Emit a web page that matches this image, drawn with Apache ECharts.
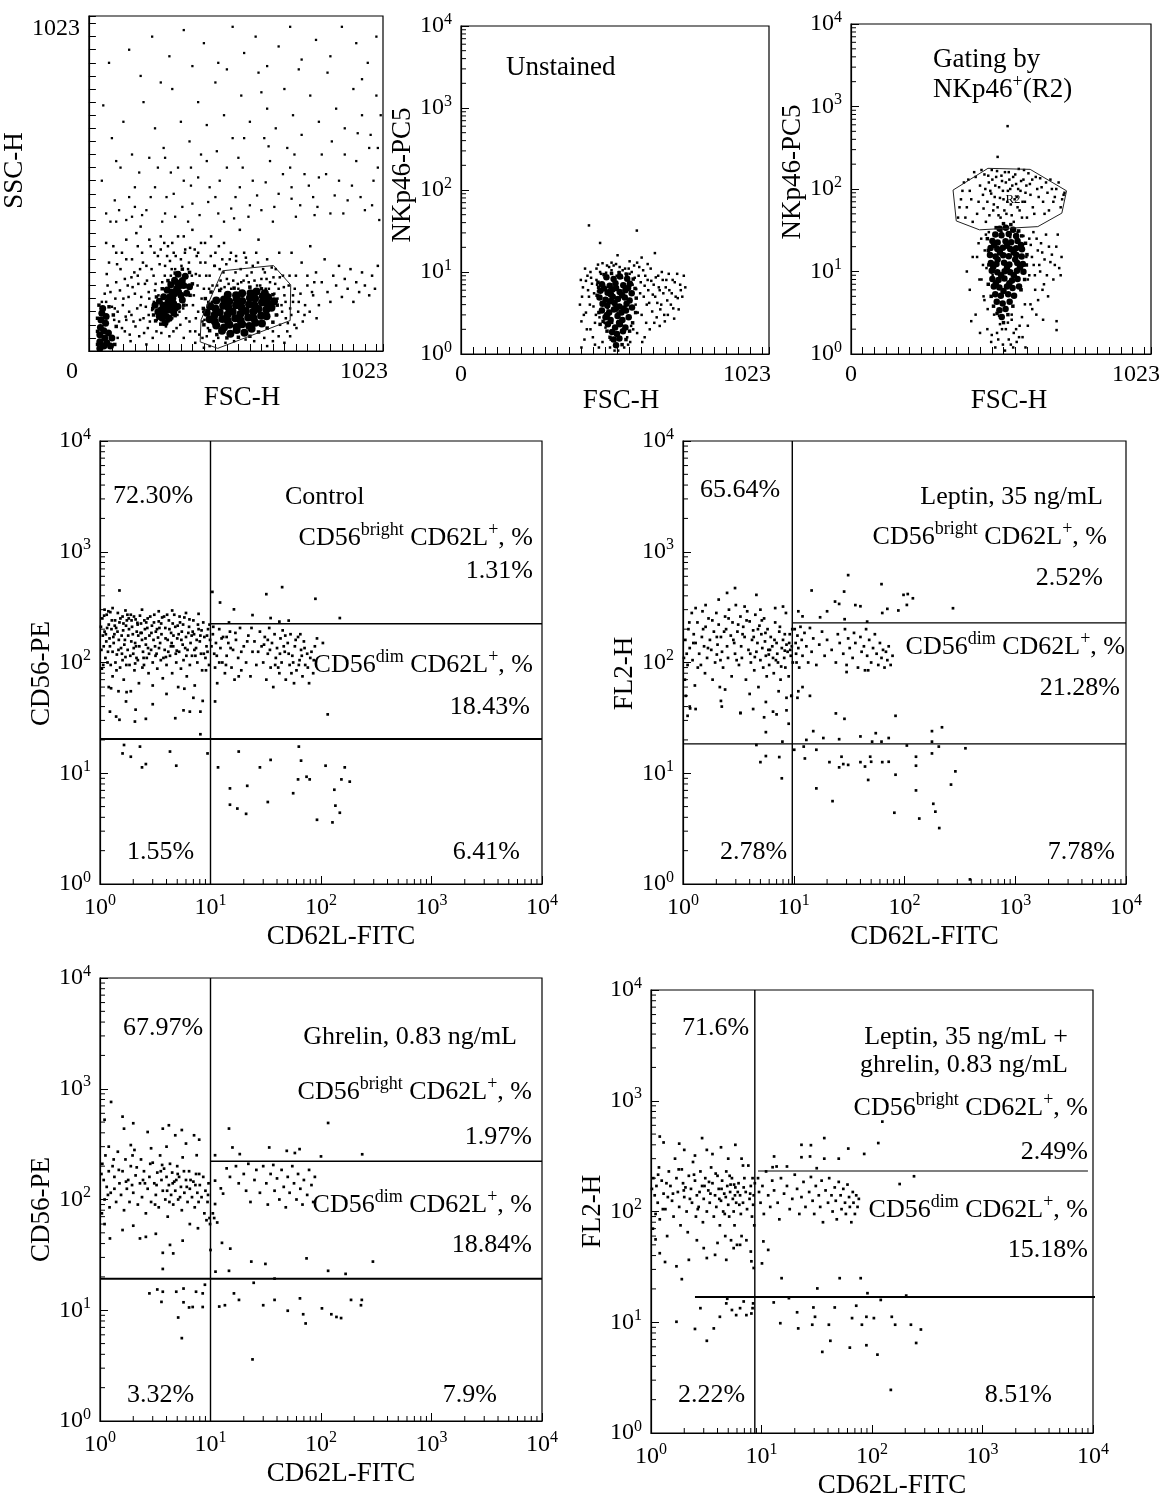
<!DOCTYPE html>
<html>
<head>
<meta charset="utf-8">
<script src="https://cdn.jsdelivr.net/npm/echarts@6/dist/echarts.min.js"></script>
<style>
html, body { margin: 0; background: #fff; }
#chart { width: 1163px; height: 1501px; }
</style>
</head>
<body>
<div id="chart"></div>
<script>
// tick labels
var linEnds = ['0', '1023'];
var decades = ['0', '1', '2', '3', '4'];
var minorTicks = [2, 3, 4, 5, 6, 7, 8, 9, 20, 30, 40, 50, 60, 70, 80, 90,
  200, 300, 400, 500, 600, 700, 800, 900, 2000, 3000, 4000, 5000, 6000, 7000, 8000, 9000];

// ---- panel A : FSC-H / SSC-H ----
var aMain = [[463,62],[492,53],[514,64],[541,56],[566,68],
  [443,78],[470,72],[489,80],[514,73],[533,82],[558,76],[579,86],[602,84],
  [420,97],[438,90],[464,98],[483,92],[509,100],[528,93],[554,102],[573,100],[599,108],[618,106],
  [410,117],[437,110],[455,118],[482,111],[500,120],[527,113],[546,122],[572,120],[590,128],[617,126],[635,132],
  [422,137],[440,130],[467,138],[486,132],[512,140],[530,134],[557,142],[576,140],[602,148],[620,146],[644,152],
  [443,154],[470,157],[488,151],[514,159],[533,153],[560,162],[578,160],[605,167],[623,164],
  [483,172],[512,170],[533,176],[562,176],[583,182],[612,176]];
var aSecond = [[245,105],[255,100],[250,125],[262,118],[268,135],[258,140],[275,150],[285,140],[280,165],[292,160],
  [298,175],[288,180],[305,190],[312,180],[318,200],[308,208],[325,215],[330,200],[335,228],[270,105],[295,145],
  [300,130],[320,170],[278,125],[240,120],[230,140],[245,152],[260,166],[272,186],[285,202],[298,216],[310,234],
  [265,86],[280,100],[295,116],[310,136],[325,156],[340,176],[350,196]];
var aEdge = [[38,8],[38,28],[38,50],[40,72],[42,95],[45,115],[52,15],[55,40],[52,62],[58,85],[62,25],[68,55],[75,15],
  [48,130],[80,40],[60,105]];
var aHalo = [[60,150],[75,180],[90,130],[95,210],[105,90],[110,250],[120,160],[125,60],[135,200],[140,120],[150,280],
  [155,90],[160,175],[170,230],[175,45],[180,140],[185,300],[190,100],[195,205],[200,260],[205,70],[210,160],[215,320],
  [220,125],[225,230],[230,185],[235,60],[240,290],[245,150],[250,350],[255,210],[260,80],[265,260],[270,180],[275,320],
  [280,45],[285,230],[290,100],[295,300],[300,250],[305,70],[310,350],[315,120],[320,280],[325,165],[330,40],[335,310],
  [340,140],[345,250],[350,90],[355,200],[360,370],[365,170],[370,60],[375,290],[380,120],[385,230],[390,330],[395,90],
  [400,190],[405,270],[410,45],[415,150],[420,230],[425,350],[430,200],[440,300],[450,40],[455,250],[460,190],[470,330],
  [475,25],[480,220],[490,280],[495,190],[505,30],[510,240],[520,190],[525,370],[530,210],[540,300],[545,35],[550,230],
  [560,195],[570,260],[575,30],[585,200],[590,340],[600,220],[610,40],[615,190],[620,280],[630,210],[640,60],[645,175],
  [650,250],[655,110],[660,190],[665,80],[670,140],[675,230],[680,170],[685,100],[690,60],[695,200],[700,130],[705,300],
  [710,170],[715,80],[720,230],[730,150],[740,270],[750,110],[760,200],[770,320],[780,170],[790,240],[800,140],[810,210],
  [820,280],[830,180],[840,150],[850,230],[860,200],[870,260],[880,165],[890,220],[900,190],[910,250],[920,150],[930,210],
  [940,180],[950,240],[960,200],[975,170],[985,230],[995,190],[1005,260],[70,270],[85,320],[130,340],[165,360],[100,40],
  [145,30],[200,20],[115,300],[180,380],[62,235],[98,265],[128,105],[148,225],[178,250],[208,110],[228,300],[262,330],
  [282,275],[352,315],[372,235],[402,95],[436,260],[468,240],[512,290],[548,270],[582,300],[612,240],[642,225],[662,300],
  [45,150],[55,175],[65,200],[80,135],[88,95],[92,160],[100,120],[108,185],[115,70],[118,140],[125,220],[130,95],
  [138,165],[142,50],[148,110],[152,195],[158,240],[162,75],[168,130],[172,205],[178,95],[182,165],[188,270],[192,55],
  [198,135],[202,215],[208,180],[212,90],[218,250],[222,40],[226,150],[232,205],[236,95],[242,170],[246,265],[252,55],
  [258,190],[264,230],[268,75],[272,290],[278,210],[284,95],[288,250],[294,60],[298,215],[302,290],[308,110],[312,240],
  [318,80],[322,260],[328,130],[334,300],[338,100],[342,180],[348,270],[352,60],[358,230],[362,140],[368,310],[372,100],
  [378,200],[384,50],[388,270],[392,160],[398,120],[404,330],[408,230],[414,70],[418,190],[424,290],[428,150],[434,30],
  [438,260],[446,200],[452,320],[458,215],[464,280],[472,195],[478,265],[486,205],[494,300],[502,215],[512,275],[518,205],
  [528,250],[538,215],[546,285],[556,210],[566,240],[576,215],[588,270],[596,200],[606,250],[618,220],[626,190],[636,255],
  [648,205],[656,160],[664,225],[672,120],[678,195],[684,150],[692,85],[698,230],[704,110],[710,150],[716,190],[722,70],
  [728,120],[736,175],[744,90],[752,140],[760,230],[768,120],[776,180],[784,210],[792,100],[370,25],[395,40],[420,15],
  [400,10],[640,30],[660,45],[680,25],[620,15],[700,45],[380,300],[330,350],[290,330],[250,310],[210,340],[170,320],
  [130,280],[95,300],[60,330]];
var aRing = [[400,80],[398,130],[405,160],[425,180],[455,185],[505,192],[560,195],[600,190],[640,172],[655,140],
  [652,110],[640,88],[620,70],[590,58],[560,45],[520,42],[480,40],[445,50],[420,62],[225,110],[232,92],[250,82],
  [275,92],[300,108],[330,140],[352,170],[360,205],[350,240],[325,250],[300,238],[275,215],[255,190],[235,165],
  [222,130],[30,20],[30,60],[30,100],[35,140],[90,20],[95,75],[85,110],[70,135]];
var aSparse = [[60,420],[90,460],[130,400],[160,500],[200,430],[240,560],[270,470],[300,410],[330,520],[360,450],[390,600],
  [420,500],[450,420],[480,560],[510,470],[540,650],[570,520],[600,430],[630,580],[660,480],[690,620],[720,410],[750,540],
  [780,470],[810,600],[840,420],[870,520],[900,460],[930,580],[960,430],[990,520],[1010,400],
  [80,650],[120,700],[150,600],[190,760],[230,680],[260,620],[290,800],[320,700],[350,640],[380,760],[410,690],[440,820],
  [470,720],[500,650],[530,780],[560,700],[590,850],[620,740],[650,680],[680,800],[710,720],[740,660],[770,780],[800,700],
  [830,850],[860,740],[890,680],[920,800],[950,720],[980,660],[1000,780],
  [70,880],[140,920],[180,840],[220,960],[280,900],[330,980],[360,870],[400,940],[450,880],[500,990],[540,910],[580,960],
  [620,870],[660,930],[700,990],[740,890],[790,950],[840,900],[880,990],[930,940],[970,880],[1000,960],
  [110,560],[210,590],[310,560],[410,580],[520,590],[610,650],[700,560],[800,530],[890,600],[975,620],[50,750],[250,820],
  [480,860],[730,860],[950,830],[1015,720],[600,790],[380,530],[160,440],[45,520],[140,470],[230,500],[285,545],[345,395],
  [440,470],[505,405],[560,445],[640,395],[705,465],[785,415],[150,410],[95,395],[255,395],[470,395],
  [75,395],[105,430],[185,415],[215,470],[265,420],[295,480],[325,440],[355,505],[385,415],[415,455],[455,520],[495,435],
  [525,500],[555,410],[585,475],[615,515],[645,440],[675,540],[705,500],[735,445],[765,505],[795,440],[825,540],[855,475],
  [885,420],[915,505],[945,470],[985,445],[1005,560],[95,580],[175,545],[265,590],[355,560],[445,610],[535,560],[625,625],
  [715,600],[845,640],[935,665],[1005,620]];
var aGate = [[465,245],[642,261],[702,202],[700,93],[448,8],[387,28],[390,95],[465,245]];

// ---- panel B : unstained ----
var bCore = [[483,8.6],[507,8.2],[528,8.8],[552,8.3],
  [468,7.1],[494,6.8],[513,7.3],[539,6.9],[561,7.2],
  [463,5.9],[487,5.6],[503,6.1],[527,5.7],[546,6.0],[567,5.5],
  [460,4.9],[480,4.6],[504,5.0],[521,4.7],[544,4.9],[560,4.5],
  [470,4.1],[486,3.9],[510,4.2],[526,3.8],[550,4.1],[568,3.7],
  [468,3.4],[492,3.2],[508,3.5],[533,3.2],[548,3.4],
  [480,2.8],[497,2.6],[520,2.9],[536,2.6],[557,2.8],
  [488,2.3],[512,2.1],[528,2.3],[546,2.1],
  [502,1.85],[518,1.75],[538,1.9],[507,1.5],[526,1.55],[515,1.28],
  [475,6.3],[498,5.3],[515,6.4],[535,5.2],[555,6.4],[495,4.4],[515,3.6],[540,3.6],[485,3.0],[525,2.4]];
var bRing = [[455,7.5],[458,3.2],[462,2.3],[475,9.3],[500,9.6],[525,9.8],[550,9.4],[572,8.2],[578,6.3],[582,4.8],
  [580,3.2],[570,2.4],[560,1.9],[548,1.5],[535,1.3],[495,1.6],[485,1.9],[472,2.5],[452,5.2],[457,6.5]];
var bSpread = [[395,4],[400,2.5],[405,6.5],[410,1.5],[415,3.2],[420,9],[425,5],[430,2],[435,7.2],[440,3.8],[445,1.3],
  [450,11],[455,5.8],[460,2.8],[465,9.5],[470,1.4],[475,7],[480,2.1],[485,12],[490,6],[495,1.2],[500,10.5],[505,4.5],
  [510,1.1],[515,12.5],[520,3.2],[525,10],[530,1.5],[535,8.5],[540,2],[545,11],[550,6],[555,1.3],[560,9.5],[565,2.2],
  [570,7],[575,12],[580,4],[585,1.8],[590,9],[595,5.5],[600,3],[605,10.5],[610,6.8],[615,2.4],[620,8],[625,4.2],[630,11],
  [635,3.3],[640,7],[645,5],[650,2.8],[655,9],[660,6],[665,4],[670,8],[675,3],[680,6.5],[685,4.5],[690,9.5],[700,5.5],
  [705,3.6],[710,7.5],[720,4.8],[730,6],[740,9],[500,13],[560,13.5],[450,8],[430,10],[620,12.5],[470,12.8],
  [425,37],[584,32],[462,22.6],[644,17],[520,16],[600,15],[415,7.8],[445,2.4],[585,13],[610,1.6],[660,2.2],
  [398,8],[402,5],[408,3],[412,11],[418,2],[422,6],[428,4],[432,8.5],[438,1.6],[442,5.5],[448,3],[452,7],[458,1.2],
  [462,10],[467,4.2],[472,6.2],[477,2.4],[482,9.8],[487,3.6],[492,11.5],[497,1.5],[502,2.4],[507,12],[512,1.3],[517,9],
  [522,1.1],[527,11.5],[532,2.5],[537,10.5],[542,1.2],[547,9.5],[552,1.6],[557,11],[562,1.4],[567,10],[572,2],[577,8.5],
  [582,6.2],[587,3.2],[592,11.5],[597,7.5],[602,1.4],[607,5],[612,9],[617,4],[622,6],[627,2],[632,7.8],[637,5.3],
  [642,2.4],[647,8.6],[652,4.2],[657,6.5],[662,3.5],[667,10],[672,5.5],[677,2.5],[682,8],[687,3],[692,6],[697,4],
  [703,8],[708,2.7],[713,5],[718,9.5],[723,3.5],[728,7],[735,5],[745,6.5],[400,1.2],[455,12.3]];

// ---- panel C : gating by NKp46+ (R2) ----
var cCore = [[507,33],[528,34],[553,32],
  [492,28],[513,27.5],[538,28.5],[563,27],
  [482,23.5],[500,22.5],[527,23.3],[546,22.6],[568,23.4],
  [476,19.3],[499,18.7],[518,19.4],[543,18.8],[563,19.2],[583,18.6],
  [474,15.8],[493,15.2],[519,15.7],[538,15.3],[564,15.8],[582,15.2],
  [477,12.7],[496,12.3],[522,12.8],[540,12.2],[567,12.7],[586,12.3],
  [480,10.2],[499,9.8],[524,10.1],[543,9.8],[566,10.2],[588,9.9],
  [482,8.1],[503,7.9],[523,8.2],[549,7.8],[568,8.1],
  [487,6.6],[506,6.4],[532,6.6],[551,6.3],[573,6.6],
  [492,5.3],[511,5.1],[536,5.3],[556,5.1],
  [497,4.3],[517,4.1],[541,4.3],[506,3.4],[527,3.5],[514,2.8],
  [488,21],[532,20.5],[555,17],[508,17],[485,11.3],[532,11.2],[576,11.2],[512,9],[555,9],[494,7.2],[540,7.2],
  [520,5.8],[560,14],[500,14],[580,21]];
var cRing = [[465,25],[470,12],[468,7],[478,5],[486,3.8],[498,3.1],[520,2.4],[535,3],[552,3.8],[580,6],[592,8],
  [598,12],[600,16],[595,22],[582,27],[572,31],[545,37],[520,38],[495,34],[468,18]];
var cSpread = [[370,60],[380,95],[390,45],[400,130],[410,75],[420,160],[430,50],[440,110],[450,85],[455,150],[460,40],
  [465,70],[470,120],[475,95],[480,170],[485,55],[490,80],[495,140],[500,60],[505,105],[510,45],[515,125],[520,75],
  [525,160],[530,50],[535,95],[540,130],[545,65],[550,110],[555,40],[560,150],[565,80],[570,100],[575,55],[580,125],
  [585,70],[590,170],[595,90],[600,45],[610,115],[620,60],[630,140],[640,80],[650,105],[660,50],[670,90],[680,130],
  [690,70],[700,100],[715,60],[725,85],
  [395,10],[405,6],[415,15],[425,3],[435,22],[445,8],[450,12],[455,4.5],[460,28],[465,2],[470,17],[478,1.4],[483,9],
  [488,3],[498,1.8],[503,14],[508,2.3],[513,30],[518,1.3],[528,2],[533,12],[538,1.5],[543,26],[548,3],[553,1.2],[558,19],
  [563,2],[568,30],[573,1.6],[578,6],[583,2.8],[588,27],[593,4],[598,15],[603,2.2],[608,9],[613,21],[618,3.5],[623,12],
  [628,6],[633,25],[638,4.5],[645,10],[652,17],[658,7],[665,28],[672,5],[680,13],[690,8],[700,20],[710,11],[718,15],
  [701,2.5],[701,1.95],[655,2.6],[440,1.8],[410,2.5],[534,578],[500,245],
  [365,45],[375,75],[385,120],[395,60],[405,95],[415,40],[425,140],[435,70],[445,170],[452,58],[458,100],[468,145],
  [472,48],[478,88],[482,130],[487,65],[492,110],[498,165],[503,48],[508,78],[513,145],[518,95],[523,55],[528,120],
  [533,70],[538,160],[543,100],[548,48],[553,140],[558,75],[563,115],[568,60],[572,175],[578,95],[583,45],[588,130],
  [593,70],[598,110],[605,155],[612,85],[618,130],[625,50],[635,100],[645,135],[655,70],[665,120],[675,55],[685,100],
  [695,80],[708,120],[720,75],[728,90],
  [430,15],[438,8],[444,25],[452,5],[456,18],[462,11],[466,3.5],[470,30],[603,8],[608,25],[612,4],[617,15],[622,30],
  [627,9],[632,3],[637,18],[642,12],[648,22],[653,6],[660,14],[668,9],[675,20],[685,16],[695,12],[705,28],[715,9],
  [480,1.7],[492,1.2],[502,1.5],[515,2],[525,1.1],[535,2.4],[545,1.3],[555,1.8],[565,1.4],[575,2.2],[585,1.6],[595,1.2],
  [505,2.9],[548,2.6]];
var cGate = [[348,97],[467,178],[611,173],[735,95],[719,51],[637,35],[438,32],[359,41],[348,97]];

// ---- panel D : control ----
var dUpperLeft = [[1.05,250],[1.1,190],[1.08,140],[1.12,110],[1.04,88],[1.15,270],[1.2,220],[1.22,165],[1.18,125],
  [1.25,95],[1.3,75],[1.28,240],[1.35,180],[1.33,150],[1.4,205],[1.42,118],[1.38,100],[1.45,280],[1.5,230],[1.48,160],
  [1.55,135],[1.52,90],[1.6,260],[1.62,195],[1.66,145],[1.7,112],[1.64,70],[1.75,240],[1.8,175],[1.78,130],[1.85,95],
  [1.9,270],[1.95,210],[1.92,155],[2.0,120],[2.05,85],[2.1,245],[2.15,190],[2.12,140],[2.2,105],[2.25,65],[2.3,265],
  [2.35,225],[2.4,160],[2.45,125],[2.5,95],[2.55,200],[2.6,145],[2.65,110],[2.7,250],[2.8,175],[2.75,80],[2.9,130],
  [2.95,215],[3.0,100],[3.05,160],[3.1,270],[3.2,190],[3.25,120],[3.3,88],[3.4,235],[3.5,150],[3.55,105],[3.6,180],
  [3.7,72],[3.8,260],[3.85,130],[3.9,205],[4.0,95],[4.1,160],[4.2,240],[4.3,115],[4.4,185],[4.5,80],[4.6,140],[4.7,270],
  [4.8,210],[4.9,100],[5.0,165],[5.1,60],[5.2,125],[5.3,230],[5.4,88],[5.5,190],[5.6,145],[5.7,105],[5.8,255],[6.0,170],
  [6.1,75],[6.2,130],[6.4,210],[6.5,95],[6.6,150],[6.8,115],[7.0,240],[7.1,180],[7.2,62],[7.4,135],[7.6,100],[7.8,200],
  [8.0,155],[8.2,120],[8.4,85],[8.6,230],[8.8,170],[9.0,110],[9.2,140],[9.5,200],[9.7,95],[9.9,160],
  [1.06,175],[1.16,205],[1.3,125],[1.6,105],[1.72,215],[2.02,135],[2.22,175],[2.48,110],[2.62,230],[3.15,140],[3.45,205],
  [4.15,125],[4.55,225],[5.15,180],[6.3,185],[7.5,160],[8.3,195],[9.4,125],[1.1,300],[1.3,310],[1.7,295],[2.4,300],
  [3.4,290],[4.5,295],[6.0,280],[7.8,275],[1.2,60],[1.9,55],[3.0,62],[4.0,52],[5.8,58],[7.0,48],[8.5,45],
  [1.14,155],[1.36,215],[1.58,120],[1.82,250],[2.08,98],[2.38,185],[2.72,135],[3.35,168],[3.95,112],[4.45,150],
  [5.05,215],[5.9,135],[6.9,190],[8.1,175],[9.1,85],[1.24,285],[2.18,228],[3.65,255],[4.95,128],[7.3,115],
  [1.02,210],[1.03,130],[1.07,95],[1.09,265],[1.13,180],[1.17,100],[1.19,290],[1.23,140],[1.27,200],[1.32,170],
  [1.37,240],[1.41,85],[1.44,190],[1.47,130],[1.53,250],[1.57,175],[1.63,225],[1.68,160],[1.73,95],[1.77,270],[1.83,200],
  [1.88,115],[1.93,240],[1.98,180],[2.03,260],[2.08,150],[2.14,110],[2.19,220],[2.27,140],[2.33,185],[2.42,90],
  [2.52,240],[2.58,165],[2.68,205],[2.78,120],[2.85,260],[2.92,185],[3.08,230],[3.18,115],[3.28,200],[3.42,135],
  [3.58,225],[3.75,110],[3.92,165],[4.05,270],[4.25,200],[4.38,140],[4.62,175],[4.85,120],[5.25,260],[5.45,160],
  [5.65,220],[6.05,115],[6.45,245],[6.75,175],[7.15,130],[7.7,220],[8.7,120],[9.3,175],[9.8,220]];
var dDim = [[10.5,180],[10.8,120],[11,90],[11.2,150],[11.5,65],[12,200],[12.3,135],[12.8,100],[13,170],[13.5,80],
  [14,115],[14.5,150],[15,190],[15.5,90],[16,130],[16.5,70],[17,160],[17.8,110],[18.5,205],[19,85],[20,140],[21,100],
  [22,175],[23,75],[24,125],[25,155],[26,95],[28,190],[29,140],[30,100],[31,170],[32,70],[33,120],[34,205],[35,90],
  [36,150],[37,60],[38,180],[39,110],[40,135],[42,80],[43,165],[44,100],[45,195],[47,125],[48,70],[50,150],[52,95],
  [53,180],[55,115],[57,65],[58,140],[60,85],[62,170],[64,105],[66,130],[68,75],[70,155],[72,95],[75,120],[78,65],
  [80,110],[85,80],[88,140],[92,165],[104,150],[12,100],[14,170],[19,125],[33,160],[41,90],[46,140],[56,100],[65,180],
  [10.2,140],[10.6,210],[11.4,115],[12.6,165],[13.8,95],[15.2,135],[16.8,185],[18,75],[21.5,155],[23.5,205],[27,125],
  [30.5,145],[34.5,130],[38.5,95],[42.5,120],[47.5,175],[51,120],[54,80],[59,160],[63,95],[67,115],[71,135],[76,90],
  [82,125],[86,105]];
var dOther = [[10.4,434],[12.2,348],[16.3,302],[32,414],[44.5,479],[89,376],[24,268],[35,252],[42,234],[51,239],
  [148,252],[14.7,230],[1.5,447],
  [18,15.7],[35,13.2],[63,17.4],[11.7,11.3],[28,11.3],[66,13],[110,11.7],[164,11.3],[15,7.3],[21.5,7.7],[62,8.8],
  [74,9.3],[79,8.8],[153,8.8],[182,8.4],[56,6.6],[132,7.1],[15,5.2],[17.5,4.8],[21,4.3],[33,5.5],[135,5.1],[148,4.4],
  [92,3.8],[127,3.6],[115,34],[11,44.5],
  [1.65,18],[2.3,17.4],[1.6,15.1],[1.9,14.1],[4.3,15.7],[2.6,12.1],[2.4,11.3],[4.9,11.7],[9.4,15.1],[8.1,22.5],
  [1.23,36],[1.4,32.5],[1.5,30.4],[2.07,29.3],[2.6,31],[1.72,44.5],[2.1,37.5],[3.0,42],[4.8,31.4],[5.7,37],[6.5,36],
  [8.1,36],[1.26,58.5],[1.47,55],[1.74,54]];

// ---- panel E : leptin ----
var eUpperLeft = [[1.05,160],[1.08,120],[1.1,95],[1.04,70],[1.06,50],[1.12,200],[1.15,135],[1.2,280],[1.22,105],
  [1.25,180],[1.3,150],[1.28,62],[1.35,230],[1.4,120],[1.45,95],[1.5,290],[1.48,170],[1.55,140],[1.6,210],[1.58,80],
  [1.65,110],[1.7,250],[1.75,160],[1.8,130],[1.85,70],[1.9,190],[1.95,100],[2.0,280],[2.05,145],[2.1,220],[2.15,60],
  [2.2,170],[2.25,125],[2.3,90],[2.4,260],[2.45,200],[2.5,140],[2.55,110],[2.6,300],[2.7,175],[2.75,75],[2.8,230],
  [2.9,150],[2.95,120],[3.0,330],[3.1,190],[3.2,95],[3.3,260],[3.35,140],[3.4,110],[3.5,210],[3.6,170],[3.7,70],
  [3.8,290],[3.9,130],[4.0,235],[4.1,100],[4.2,160],[4.3,195],[4.4,85],[4.5,270],[4.6,125],[4.7,150],[4.8,60],[4.9,215],
  [5.0,105],[5.1,180],[5.2,135],[5.3,90],[5.4,250],[5.5,155],[5.6,115],[5.7,75],[5.8,200],[5.9,130],[6.0,95],[6.2,170],
  [6.4,140],[6.5,110],[6.6,80],[6.8,230],[7.0,150],[7.1,120],[7.2,100],[7.4,190],[7.6,70],[7.8,135],[8.0,160],[8.2,110],
  [8.4,90],[8.5,280],[8.6,145],[8.8,125],[9.0,75],[9.2,180],[9.4,115],[9.5,50],[9.6,140],[9.8,100],
  [1.15,40],[1.3,38],[2.2,45],[3.3,35],[4.3,38],[5.4,32],[6.5,36],[8.6,37],[5.6,44],[8.6,48],[9.6,50],[2.95,470],
  [2.5,425],[4.6,408],[2.1,370],[1.3,310],[1.6,330],[3.6,320],[5.0,300],[6.8,310],[8.0,320],[2.4,57],[4.0,52],[7.3,55],
  [1.1,33],[9.0,28],[7.0,34],[6.9,105],[7.7,92],[8.3,128],[9.1,150],[5.95,118],[4.45,112],[3.05,105],[2.02,118],
  [1.02,110],[1.14,230],[1.24,150],[1.36,90],[1.52,200],[1.68,135],[1.84,240],[2.02,170],[2.18,105],[2.35,190],
  [2.58,250],[2.85,160],[3.15,220],[3.45,180],[3.75,240],[4.05,120],[4.35,170],[4.75,200],[5.15,240],[5.55,185],
  [6.1,130],[6.7,160],[7.5,210],[8.3,180],[9.3,130],[9.7,200]];
var eDim = [[10.2,200],[10.4,150],[10.5,120],[10.6,100],[10.8,175],[11,135],[11.2,90],[11.5,210],[11.8,160],[12,115],
  [12.5,185],[13,140],[13.5,100],[14,205],[14.5,125],[15,165],[16,95],[17,145],[18,190],[19,115],[20,160],[22,130],
  [24,100],[25,180],[26,150],[28,120],[29,200],[30,95],[31,165],[32,135],[34,110],[35,185],[36,150],[38,90],[40,170],
  [41,125],[43,140],[44,85],[45,200],[46,115],[48,160],[50,100],[52,135],[54,180],[56,120],[58,95],[60,150],[62,110],
  [64,130],[66,90],[68,125],[70,105],[72,140],[75,95],[78,115],[12,60],[11,55],[10.8,48],[14,50],[30,82],[47,85]];
var eOther = [[14.5,447],[31,615],[28.5,437],[62,510],[12,261],[11,290],[17.3,256],[20,290],[23.6,355],[25.7,338],
  [28.8,246],[36,330],[40,322],[63,280],[70,305],[88,295],[105,331],[98,408],[107,415],[119,380],[274,309],[46,234],
  [24,34.7],[28.7,31],[83,33],[15,24],[13,20],[18.5,20.8],[25.7,20.3],[40,21.5],[51,19.3],[55,23],[62,19.3],[72,20.8],
  [177,24],[177,19.3],[218,26],[10.1,16.3],[12.3,17.4],[12.6,13.6],[16,16.3],[21,12.6],[25.7,11.3],[27,14.1],[28,12.1],
  [31,11.9],[40,12.6],[44,11.5],[49,14.1],[50,12.7],[63,12.6],[72,12.7],[83,9.7],[105,17.8],[127,14.1],[127,11.7],
  [177,15.1],[204,17.4],[288,10.4],[355,16.8],[47,8.7],[16,7.3],[22.4,5.6],[127,7.0],[263,7.9],[81,4.4],[136,3.9],
  [182,5.3],[190,4.5],[206,3.2],[390,1.1],
  [4.6,18],[5.6,23.5],[5.0,12.6],[5.6,14.3],[7.4,14],[7.8,9.0],[7.9,19.3],[3.3,35],[1.16,38.5],[2.24,40]];

// ---- panel F : ghrelin ----
var fUpperLeft = [[1.05,210],[1.08,150],[1.1,100],[1.04,75],[1.12,250],[1.15,130],[1.2,180],[1.22,85],[1.25,115],
  [1.3,200],[1.35,160],[1.4,95],[1.45,270],[1.5,140],[1.55,110],[1.6,180],[1.65,80],[1.7,230],[1.75,125],[1.8,150],
  [1.85,95],[1.9,200],[2.0,115],[2.05,280],[2.1,165],[2.2,90],[2.3,140],[2.35,230],[2.4,105],[2.5,180],[2.6,75],
  [2.7,125],[2.8,160],[2.9,95],[3.0,215],[3.1,140],[3.2,110],[3.3,175],[3.4,85],[3.5,250],[3.6,150],[3.7,120],[3.8,190],
  [3.9,100],[4.0,160],[4.1,70],[4.2,135],[4.3,210],[4.4,110],[4.5,175],[4.6,90],[4.7,145],[4.8,120],[5.0,200],[5.1,100],
  [5.2,160],[5.4,130],[5.5,80],[5.6,240],[5.8,115],[6.0,150],[6.2,95],[6.4,180],[6.5,125],[6.8,105],[7.0,145],[7.2,85],
  [7.4,170],[7.6,115],[7.8,95],[8.0,135],[8.3,105],[8.6,160],[8.8,75],[9.0,120],[9.2,65],[9.4,95],[9.6,140],[9.8,68],
  [9.9,60],[1.26,760],[1.6,560],[2.0,488],[1.65,436],[1.1,525],[2.7,407],[3.7,436],[4.2,468],[4.8,380],[5.5,424],
  [7.1,380],[7.9,347],[7.5,251],[1.2,300],[1.9,310],[2.9,290],[4.0,300],[6.0,320],[2.3,44.5],[2.6,46],[3.2,49],[3.7,33],
  [4.6,32.6],[4.3,38.9],[5.6,42.5],[7.7,55],[3.7,23.6],[1.6,53],[1.23,44.5],[1.1,60],[2.0,58],[6.5,60],
  [1.35,125],[1.95,135],[2.45,150],[3.15,90],[3.55,180],[4.25,95],[4.9,150],[5.3,105],[6.1,130],[7.3,135],
  [1.03,170],[1.18,110],[1.33,230],[1.48,185],[1.72,145],[1.97,250],[2.15,195],[2.55,140],[2.85,210],[3.25,135],
  [3.65,205],[4.05,120],[4.55,140],[5.05,170],[5.75,180],[6.6,150],[7.9,170],[9.5,110]];
var fDim = [[11,148],[12.4,126],[13,113],[11,91],[14,191],[15,160],[17,200],[18,140],[20,170],[21,120],[22,210],
  [23,95],[25,150],[26,185],[28,115],[30,200],[32,140],[33,90],[35,170],[37,205],[38,120],[40,155],[42,100],[44,185],
  [46,130],[48,85],[50,160],[52,115],[55,200],[57,140],[60,100],[62,170],[65,125],[68,90],[70,150],[75,110],[78,185],
  [82,135],[85,95],[88,160],[10.5,75],[11.5,62],[10.8,68]];
var fOther = [[14.7,437],[15.8,295],[34,295],[49,275],[58,263],[64,285],[100,245],[116,491],[236,256],[11,251],
  [18.4,257],[12.7,40.6],[15.1,36],[10,35],[23.4,27.5],[31.4,26.2],[74,29.4],[295,27.5],[11.1,22.3],[14.7,22.7],
  [24.6,17.7],[38,19.3],[116,22.7],[167,21.3],[12,10.8],[13.5,11.1],[16.3,14.2],[18.1,12.4],[30,11.1],[38,12.4],[50,9.9],
  [64.5,12.8],[69,9.2],[72.6,7.6],[102,10.4],[124,9.2],[138,8.7],[152,8.5],[187,12.4],[230,11.1],[234,12.4],[24,3.6],
  [2.8,14.2],[3.3,15.4],[3.7,14.7],[3.6,11.9],[4.9,14.7],[5.7,15.7],[5.7,11.8],[5.1,8.6],[5.5,5.6],[6.4,10.6],[6.9,10.7],
  [7.4,14.7],[8.5,14.2],[8.5,10.7],[8.9,17]];

// ---- panel G : leptin + ghrelin ----
var gUpperLeft = [[1.05,200],[1.08,140],[1.1,95],[1.04,70],[1.12,170],[1.15,120],[1.18,250],[1.2,85],[1.25,190],
  [1.3,145],[1.35,105],[1.4,60],[1.45,230],[1.5,170],[1.55,125],[1.6,90],[1.65,300],[1.7,200],[1.75,150],[1.8,110],
  [1.85,75],[1.9,240],[1.95,180],[2.0,135],[2.1,100],[2.15,65],[2.2,210],[2.3,160],[2.35,120],[2.4,280],[2.5,190],
  [2.55,90],[2.6,140],[2.7,110],[2.8,230],[2.9,170],[2.95,80],[3.0,130],[3.1,200],[3.2,100],[3.3,155],[3.4,120],
  [3.5,250],[3.6,180],[3.7,90],[3.8,140],[3.9,110],[4.0,210],[4.1,160],[4.2,75],[4.3,125],[4.4,190],[4.5,100],[4.6,145],
  [4.7,60],[4.8,230],[4.9,170],[5.0,115],[5.1,90],[5.2,150],[5.3,55],[5.4,200],[5.5,130],[5.6,100],[5.7,75],[5.8,165],
  [5.9,120],[6.0,50],[6.2,180],[6.4,140],[6.5,95],[6.6,60],[6.8,120],[7.0,200],[7.2,150],[7.4,105],[7.6,260],[7.8,130],
  [8.0,170],[8.2,90],[8.4,115],[8.5,140],[8.6,75],[8.7,180],[1.2,475],[1.3,420],[1.8,410],[2.0,360],[2.5,320],[2.9,460],
  [3.2,360],[3.6,330],[4.3,380],[5.0,300],[5.8,400],[6.6,300],[6.8,260],[1.2,42],[1.34,35],[1.7,32],[2.2,36.6],[3.0,46.7],
  [3.2,38],[3.8,40.6],[4.8,36.6],[5.6,46.7],[6.4,50],[8.1,35.5],[8.5,30.9],[8.0,43.5],[1.9,24.5],[2.6,55],[4.0,52],
  [7.3,55],[1.1,56],[1.42,135],[2.05,165],[2.65,105],[3.35,185],[4.15,130],[4.65,95],[5.25,175],[5.75,140],[6.3,115],
  [1.02,160],[1.16,215],[1.28,105],[1.38,180],[1.58,145],[1.78,240],[1.98,155],[2.25,130],[2.45,215],[2.75,150],
  [3.05,170],[3.45,145],[3.85,220],[4.35,160],[4.75,135],[5.15,210],[5.65,175],[6.1,150],[6.9,165],[7.9,145],[8.3,200]];
var gDim = [[9.3,200],[9.5,150],[9.8,120],[10.2,170],[10.5,95],[11,230],[11.5,140],[12,110],[12.5,190],[13,155],
  [14,120],[14.5,85],[15,200],[16,145],[17,170],[18,105],[19,130],[20,215],[21,160],[22,95],[23,135],[24,185],[25,110],
  [27,150],[28,205],[29,125],[30,95],[31,170],[33,140],[34,110],[35,190],[36,80],[38,155],[40,120],[41,200],[43,140],
  [44,100],[46,165],[47,125],[48,85],[50,185],[52,140],[53,105],[55,160],[57,120],[58,95],[60,175],[62,135],[63,110],
  [65,80],[67,150],[68,120],[70,95],[72,140],[74,110],[76,130],[10.1,34],[11.5,45],[10.4,53.7],[178,177],[240,208]];
var gOther = [[12.6,251],[13.7,255],[13,314],[23,400],[28,397],[23,309],[27.5,314],[37,460],[31.6,246],[37,300],
  [50,300],[61,370],[85,331],[114,415],[124,648],[17,255],
  [15.2,25],[51,25],[79,25],[32,20.2],[91,18.3],[120,15.9],[204,17.4],[12.9,15.1],[17.7,16.5],[21,12.3],[29.5,13.6],
  [46,13.6],[72,14.1],[14.8,9.8],[21.5,8.8],[28.8,9.5],[30.5,11.2],[40.7,9.5],[66,10.9],[81,9.5],[89,11.2],[104,10.9],
  [151,11.2],[162,9.5],[225,9.5],[277,8.6],[251,6.5],[42,6.8],[35.5,5.4],[63,5.9],[89,6.2],[112,5.1],[148,2.45],
  [1.7,10.1],[2.5,8.7],[2.8,13.4],[3.2,6.8],[3.7,8.8],[4.2,11.2],[4.8,14.8],[4.9,16.3],[5.4,12.9],[5.9,11.6],[6.4,13.4],
  [6.9,15.4],[7.3,11.6],[8.1,12.0],[8.3,13.4],[8.4,14.8]];

// quadrant markers (vertical cut, lower cut, upper cut) for D, E, F, G
var quadX = [10, 9.7, 10, 8.7];
var quadLow = [20.4, 18.4, 19.2, 16.9];
var quadHigh = [224, 228, 222, 232];

// texts
var treatments = ['Control', 'Leptin, 35 ng/mL', 'Ghrelin, 0.83 ng/mL', 'Leptin, 35 ng/mL +\nghrelin, 0.83 ng/mL'];
var pctUL = ['72.30%', '65.64%', '67.97%', '71.6%'];
var pctBright = ['1.31%', '2.52%', '1.97%', '2.49%'];
var pctDim = ['18.43%', '21.28%', '18.84%', '15.18%'];
var pctLL = ['1.55%', '2.78%', '3.32%', '2.22%'];
var pctLR = ['6.41%', '7.78%', '7.9%', '8.51%'];

var FONT = '"Liberation Serif", "Times New Roman", serif';
var grids = [], xAxes = [], yAxes = [], series = [], graphics = [];

var boxes = [
  {left: 78, top: 16, width: 305, height: 335},
  {left: 461, top: 26, width: 308, height: 328},
  {left: 851, top: 24, width: 301, height: 330},
  {left: 100, top: 441, width: 442, height: 443},
  {left: 683, top: 441, width: 443, height: 443},
  {left: 100, top: 978, width: 442, height: 443},
  {left: 651, top: 990, width: 442, height: 443}
];

function logLabel(v) {
  return '{n|10}{s|' + decades[Math.round(Math.log10(v))] + '}';
}

function makeAxis(gi, type, name, gap, pad, fmt, rich) {
  var r = {
    n: {fontSize: 24, fontFamily: FONT, color: '#000'},
    s: {fontSize: 16, fontFamily: FONT, color: '#000', padding: [0, 0, 13, 0]}
  };
  for (var k in rich) r[k] = rich[k];
  var a = {
    gridIndex: gi, type: type, name: name, nameLocation: 'middle', nameGap: gap,
    nameTextStyle: {color: '#000', fontFamily: FONT, fontSize: 27, padding: pad},
    axisLine: {lineStyle: {color: '#000', width: 1.2}},
    axisTick: {inside: true, length: 8, lineStyle: {color: '#000', width: 1}},
    splitLine: {show: false},
    axisLabel: {color: '#000', fontFamily: FONT, fontSize: 24, margin: 9, showMinLabel: true, showMaxLabel: true,
      formatter: fmt, rich: r}
  };
  if (type === 'log') {
    a.logBase = 10; a.min = 1; a.max = 10000;
  } else {
    a.min = 0; a.max = 1023; a.interval = 40; a.axisTick.length = 7;
  }
  return a;
}

function linX(v) {
  if (v === 0) return '{l|' + linEnds[0] + '}';
  if (v === 1023) return '{r|' + linEnds[1] + '}';
  return '';
}

function pts(gi, data, size, shape) {
  series.push({type: 'scatter', xAxisIndex: gi, yAxisIndex: gi, data: data, symbol: shape || 'rect',
    symbolSize: size, itemStyle: {color: '#000', opacity: 1}, silent: true, z: 3});
}

function path(gi, data, width, color) {
  series.push({type: 'line', xAxisIndex: gi, yAxisIndex: gi, data: data, showSymbol: false, symbol: 'none',
    clip: false, silent: true, z: 4, lineStyle: {color: color || '#000', width: width}});
}

function minorTicksFor(gi, axis, base, len) {
  series.push({type: 'custom', xAxisIndex: gi, yAxisIndex: gi, silent: true, clip: false, z: 6,
    data: minorTicks.map(function (v) { return axis === 'y' ? [base, v] : [v, base]; }),
    renderItem: function (params, api) {
      var p = api.coord([api.value(0), api.value(1)]);
      var shape = axis === 'y' ? {x1: p[0], y1: p[1], x2: p[0] + len, y2: p[1]}
                               : {x1: p[0], y1: p[1], x2: p[0], y2: p[1] - len};
      return {type: 'line', shape: shape, style: {stroke: '#000', lineWidth: 1}};
    }});
}

var annRich = {s: {fontSize: 18, fontFamily: FONT, fill: '#000', padding: [0, 0, 16, 0]}};
function label(x, y, text, align, size) {
  graphics.push({type: 'text', x: x, y: y, silent: true,
    style: {text: text, fill: '#000', fontSize: size || 26, fontFamily: FONT, align: align, verticalAlign: 'middle',
      textAlign: align, textVerticalAlign: 'middle', lineHeight: 28, rich: annRich}});
}

// grids
boxes.forEach(function (b) {
  grids.push({left: b.left, top: b.top, width: b.width, height: b.height, show: true,
    borderColor: '#000', borderWidth: 1.2, backgroundColor: 'rgba(0,0,0,0)'});
});

// top row axes
xAxes.push(makeAxis(0, 'value', 'FSC-H', 27, [0, 0, 0, 12], linX, {
  l: {fontSize: 24, fontFamily: FONT, color: '#000', padding: [0, 34, 0, 0]},
  r: {fontSize: 24, fontFamily: FONT, color: '#000', padding: [0, 38, 0, 0]}}));
yAxes.push(makeAxis(0, 'value', 'SSC-H', 42, [0, 0, 0, 26], function (v) {
  return v === 1023 ? '{t|' + linEnds[1] + '}' : '';
}, {t: {fontSize: 24, fontFamily: FONT, color: '#000', padding: [26, 0, 0, 0]}}));

xAxes.push(makeAxis(1, 'value', 'FSC-H', 22, [0, 0, 0, 12], linX, {
  l: {fontSize: 24, fontFamily: FONT, color: '#000'},
  r: {fontSize: 24, fontFamily: FONT, color: '#000', padding: [0, 44, 0, 0]}}));
yAxes.push(makeAxis(1, 'log', 'NKp46-PC5', 41, [0, 0, 0, 30], logLabel, {}));

xAxes.push(makeAxis(2, 'value', 'FSC-H', 22, [0, 0, 0, 16], linX, {
  l: {fontSize: 24, fontFamily: FONT, color: '#000'},
  r: {fontSize: 24, fontFamily: FONT, color: '#000', padding: [0, 30, 0, 0]}}));
yAxes.push(makeAxis(2, 'log', 'NKp46-PC5', 43, [0, 0, 0, 34], logLabel, {}));

// lower panels axes
var yNames = ['CD56-PE', 'FL2-H', 'CD56-PE', 'FL2-H'];
var yPads = [[0, 22, 0, 0], [0, 22, 0, 0], [0, 20, 0, 0], [0, 0, 0, 0]];
for (var i = 0; i < 4; i++) {
  xAxes.push(makeAxis(3 + i, 'log', 'CD62L-FITC', 39, [0, 0, 0, 40], logLabel, {}));
  yAxes.push(makeAxis(3 + i, 'log', yNames[i], 40, yPads[i], logLabel, {}));
}

// minor ticks on log axes
minorTicksFor(1, 'y', 0, 5);
minorTicksFor(2, 'y', 0, 5);
for (var j = 3; j < 7; j++) {
  minorTicksFor(j, 'y', 1, 5);
  minorTicksFor(j, 'x', 1, 5);
}

// panel A
pts(0, aSparse, 2.3);
pts(0, aHalo, 2.5);
pts(0, aRing, 3.5);
pts(0, aEdge, 7, 'circle');
pts(0, aSecond, 7, 'circle');
pts(0, aMain, 8, 'circle');
path(0, aGate, 1, '#222');

// panel B
pts(1, bSpread, 2.5);
pts(1, bRing, 3.5);
pts(1, bCore, 6.5, 'circle');
label(506, 68, 'Unstained', 'left', 27);

// panel C
pts(2, cSpread, 2.5);
pts(2, cRing, 3.5);
pts(2, cCore, 6.5, 'circle');
path(2, cGate, 1, '#222');
label(933, 60, 'Gating by', 'left', 27);
label(933, 90, 'NKp46{s|+}(R2)', 'left', 27);
label(1013, 200, 'R2', 'center', 13);

// panels D - G
var ulSets = [dUpperLeft, eUpperLeft, fUpperLeft, gUpperLeft];
var dimSets = [dDim, eDim, fDim, gDim];
var otherSets = [dOther, eOther, fOther, gOther];
for (var q = 0; q < 4; q++) {
  var gi = 3 + q;
  pts(gi, ulSets[q], 2.7);
  pts(gi, dimSets[q], 2.7);
  pts(gi, otherSets[q], 2.7);
  path(gi, [[quadX[q], 1], [quadX[q], 10000]], 1.4);
}
path(3, [[1, quadLow[0]], [10000, quadLow[0]]], 2);
path(3, [[quadX[0], quadHigh[0]], [10000, quadHigh[0]]], 1.5);
path(4, [[1, quadLow[1]], [10000, quadLow[1]]], 1.4);
path(4, [[quadX[1], quadHigh[1]], [10000, quadHigh[1]]], 1.4);
path(5, [[1, quadLow[2]], [10000, quadLow[2]]], 2);
path(5, [[quadX[2], quadHigh[2]], [10000, quadHigh[2]]], 1.5);
path(6, [[2.5, quadLow[3]], [25000, quadLow[3]]], 2.2);
path(6, [[9.3, quadHigh[3]], [9000, quadHigh[3]]], 1.2);

// annotations D
label(113, 496, pctUL[0], 'left');
label(285, 497, treatments[0], 'left');
label(533, 538, 'CD56{s|bright} CD62L{s|+}, %', 'right');
label(533, 571, pctBright[0], 'right');
label(533, 665, 'CD56{s|dim} CD62L{s|+}, %', 'right');
label(530, 707, pctDim[0], 'right');
label(127, 852, pctLL[0], 'left');
label(520, 852, pctLR[0], 'right');
// annotations E
label(700, 490, pctUL[1], 'left');
label(1103, 497, treatments[1], 'right');
label(1107, 537, 'CD56{s|bright} CD62L{s|+}, %', 'right');
label(1103, 578, pctBright[1], 'right');
label(1125, 647, 'CD56{s|dim} CD62L{s|+}, %', 'right');
label(1120, 688, pctDim[1], 'right');
label(720, 852, pctLL[1], 'left');
label(1115, 852, pctLR[1], 'right');
// annotations F
label(123, 1028, pctUL[2], 'left');
label(517, 1037, treatments[2], 'right');
label(532, 1092, 'CD56{s|bright} CD62L{s|+}, %', 'right');
label(532, 1137, pctBright[2], 'right');
label(532, 1205, 'CD56{s|dim} CD62L{s|+}, %', 'right');
label(532, 1245, pctDim[2], 'right');
label(127, 1395, pctLL[2], 'left');
label(497, 1395, pctLR[2], 'right');
// annotations G
label(682, 1028, pctUL[3], 'left');
label(1068, 1051, treatments[3], 'right');
label(1088, 1108, 'CD56{s|bright} CD62L{s|+}, %', 'right');
label(1088, 1152, pctBright[3], 'right');
label(1088, 1210, 'CD56{s|dim} CD62L{s|+}, %', 'right');
label(1088, 1250, pctDim[3], 'right');
label(678, 1395, pctLL[3], 'left');
label(1052, 1395, pctLR[3], 'right');

var chart = echarts.init(document.getElementById('chart'), null, {renderer: 'canvas'});
chart.setOption({
  animation: false,
  backgroundColor: '#fff',
  textStyle: {fontFamily: FONT, color: '#000'},
  grid: grids,
  xAxis: xAxes,
  yAxis: yAxes,
  series: series,
  graphic: {elements: graphics}
});
</script>
</body>
</html>
